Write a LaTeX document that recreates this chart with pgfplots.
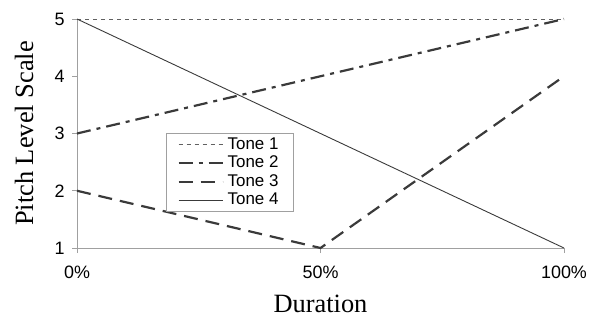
\documentclass[border=0pt]{standalone}
\usepackage{fontspec}
\setmainfont{Liberation Serif}
\newfontfamily\arial{Liberation Sans}
\usepackage{pgfplots}
\pgfplotsset{compat=1.18}
\definecolor{ln}{HTML}{3A3A3A}
\definecolor{ax}{HTML}{A0A0A0}
\begin{document}
\begin{tikzpicture}[x=1bp,y=1bp]
\useasboundingbox (-77,-70) rectangle (513,248);
\begin{axis}[
  at={(0,0)}, anchor=south west,
  scale only axis, width=487bp, height=229bp,
  xmin=0, xmax=100, ymin=1, ymax=5,
  axis x line*=bottom, axis y line*=left,
  axis line style={ax, line width=0.8pt, -},
  xtick={0,50,100}, xticklabels={0\%,50\%,100\%},
  ytick={1,2,3,4,5},
  tick style={ax, line width=0.8pt},
  tick align=outside, major tick length=5bp,
  /pgf/number format/assume math mode=true,
  tick label style={font=\arial\fontsize{18}{20}\selectfont, text=black},
  xticklabel style={yshift=-9bp},
  yticklabel style={xshift=-4bp},
  xlabel={Duration}, ylabel={Pitch Level Scale},
  label style={font=\fontsize{26.5}{28}\selectfont},
  xlabel style={at={(axis description cs:0.5,-0.2795)}, anchor=base},
  ylabel style={at={(axis description cs:-0.0903,0.5)}, anchor=base},
  legend style={at={(rel axis cs:0.183,0.502)}, anchor=north west,
    draw=ax, line width=0.6pt, font=\arial\fontsize{17}{18}\selectfont,
    inner xsep=11bp, inner ysep=2bp, row sep=0bp,
    nodes={inner xsep=4bp, inner ysep=1.5bp, text height=12.5bp, text depth=3bp}},
  legend cell align=left,
  legend image code/.code={\draw[#1] (0bp,0bp) -- (44bp,0bp);},
  clip=false,
]
\addplot[color=ln!80, line width=0.9pt, dash pattern=on 4bp off 4bp] coordinates {(0,5) (100,5)};
\addlegendentry{Tone 1}
\addplot[color=ln, line width=2.2pt, dash pattern=on 14bp off 6bp on 4bp off 6bp] coordinates {(0,3) (100,5)};
\addlegendentry{Tone 2}
\addplot[color=ln, line width=2.2pt, dash pattern=on 14bp off 8bp] coordinates {(0,2) (50,1) (100,4)};
\addlegendentry{Tone 3}
\addplot[color=ln, line width=0.9pt] coordinates {(0,5) (100,1)};
\addlegendentry{Tone 4}
\end{axis}
\end{tikzpicture}
\end{document}
